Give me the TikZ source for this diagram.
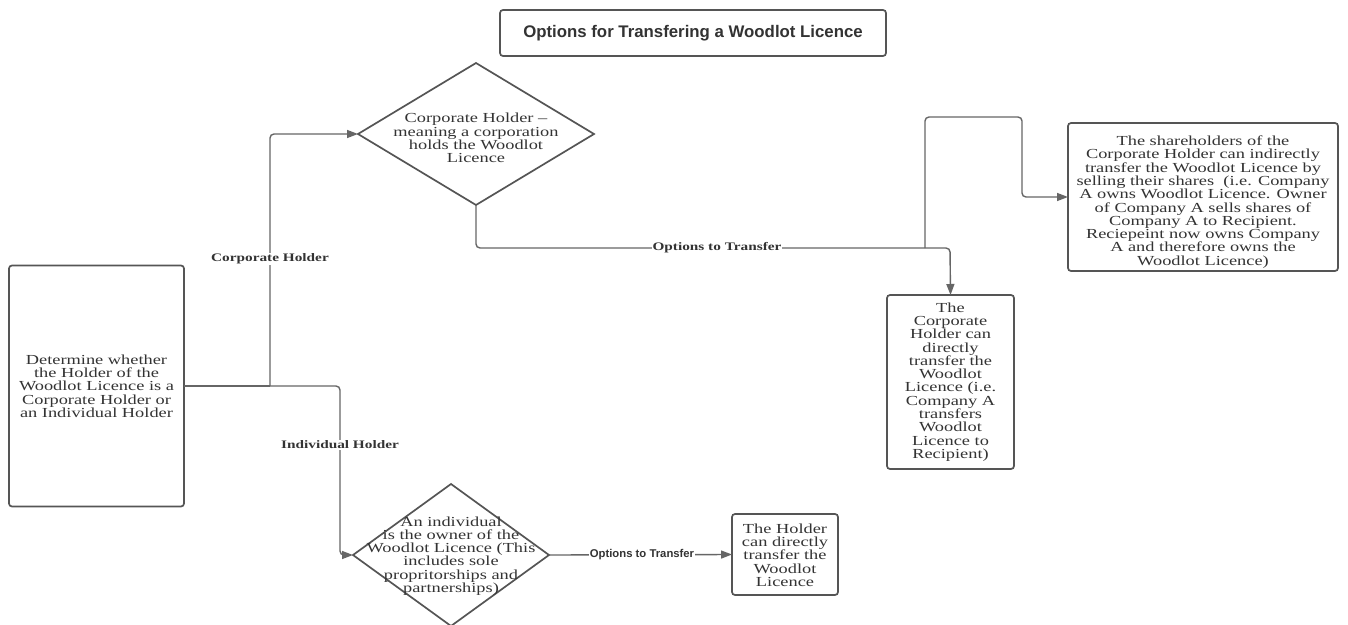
\documentclass[tikz,border=0pt]{standalone}
\usepackage{fontspec}
\usetikzlibrary{shapes.geometric,arrows.meta}
\newfontfamily\garfont{Liberation Serif}[FakeStretch=1.33]
\newfontfamily\sansfnt{Liberation Sans}
\definecolor{linec}{HTML}{666666}
\definecolor{boxc}{HTML}{555555}
\definecolor{txtc}{HTML}{333333}
\tikzset{
  boxnode/.style={draw=boxc, line width=1.7pt, rounded corners=3pt, inner sep=0pt, outer sep=0pt},
  dianode/.style={draw=boxc, line width=1.7pt, shape=diamond, inner sep=0pt, outer sep=0pt},
  bodytxt/.style={text=txtc, align=center, inner sep=0pt, font=\garfont\fontsize{13.8}{13.3}\selectfont},
  lbltxt/.style={text=txtc, fill=white, inner sep=1pt, font=\garfont\bfseries\fontsize{11.5}{13}\selectfont},
  sanslbl/.style={text=txtc, fill=white, inner sep=1pt, font=\sansfnt\bfseries\fontsize{11.3}{13}\selectfont},
  conn/.style={draw=linec, line width=1.4pt, rounded corners=4pt},
  arr/.style={-{Triangle[length=11pt,width=8pt]}}
}
\begin{document}
\begin{tikzpicture}[x=1pt,y=-1pt]
\useasboundingbox (0,0) rectangle (1348,624);
\fill[white] (0,0) rectangle (1348,624);

% title
\node[boxnode, minimum width=386, minimum height=46] (title) at (693,33) {};
\node[text=txtc, font=\sansfnt\bfseries\fontsize{16.8}{18}\selectfont] (titletxt) at (title) {Options for Transfering a Woodlot Licence};

% start box
\node[boxnode, minimum width=175, minimum height=241] (q) at (96.5,386) {};
\node[bodytxt] (qtxt) at (q) {Determine whether\\the Holder of the\\Woodlot Licence is a\\Corporate Holder or\\an Individual Holder};

% corporate diamond
\node[dianode, minimum width=236, minimum height=142] (corp) at (476,134) {};
\node[bodytxt] (corptxt) at (476,138) {Corporate Holder –\\meaning a corporation\\holds the Woodlot\\Licence};

% individual diamond
\node[dianode, minimum width=196, minimum height=142] (ind) at (451,555) {};
\node[bodytxt] (indtxt) at (451,556) {An individual\\is the owner of the\\Woodlot Licence (This\\includes sole\\propritorships and\\partnerships)};

% shareholders box
\node[boxnode, minimum width=270, minimum height=148] (share) at (1203,197) {};
\node[bodytxt] (sharetxt) at (1203,202) {The shareholders of the\\Corporate Holder can indirectly\\transfer the Woodlot Licence by\\selling their shares\ \ (i.e. Company\\A owns Woodlot Licence. Owner\\of Company A sells shares of\\Company A to Recipient.\\Reciepeint now owns Company\\A and therefore owns the\\Woodlot Licence)};

% corporate direct box
\node[boxnode, minimum width=127, minimum height=174] (direct) at (950.5,382) {};
\node[bodytxt] (directtxt) at (950.5,382) {The\\Corporate\\Holder can\\directly\\transfer the\\Woodlot\\Licence (i.e.\\Company A\\transfers\\Woodlot\\Licence to\\Recipient)};

% holder box
\node[boxnode, minimum width=106, minimum height=81] (holder) at (785,554.5) {};
\node[bodytxt] (holdertxt) at (785,555) {The Holder\\can directly\\transfer the\\Woodlot\\Licence};

% junction coordinates
\coordinate (j0) at (270,386);
\coordinate (j1) at (340,386);
\coordinate (c1) at (950,248);
\coordinate (b1) at (925,248);
\coordinate (b2) at (925,117);
\coordinate (b3) at (1022,117);

% connectors
\draw[conn] (q.east) -- (j0);
\draw[conn, arr] (j0) |- (corp.west);
\draw[conn, arr] (j0) -- (j1) |- (ind.west);
\draw[conn, arr] (corp.south) |- (c1) -- (direct.north);
\draw[conn, arr] (b1) -- (b2) -- (b3) |- (share.west);
\draw[conn, arr] (ind.east) -- (holder.west);

% labels
\node[lbltxt] (lcorp) at (270,259) {Corporate Holder};
\node[lbltxt] (lind) at (340,445) {Individual Holder};
\node[lbltxt] (lopt1) at (717,248) {Options to Transfer};
\node[sanslbl] (lopt2) at (642,555) {Options to Transfer};
\end{tikzpicture}
\end{document}
